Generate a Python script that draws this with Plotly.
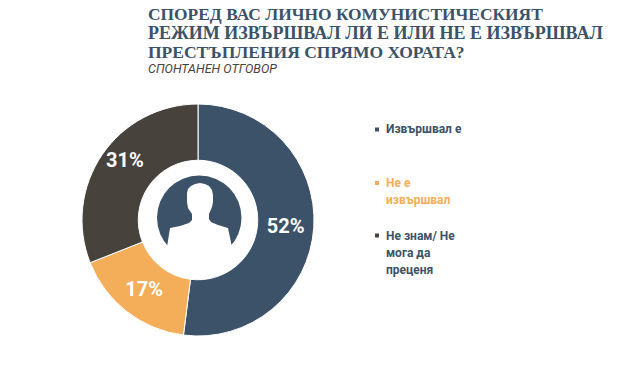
import plotly.graph_objects as go

W, H = 618, 377
categories = ["Извършвал е", "Не е извършвал", "Не знам/ Не мога да преценя"]
values = [52, 17, 31]
colors = ["#3B5268", "#F4AE5A", "#47423C"]
legend_lines = [["Извършвал е"], ["Не е", "извършвал"], ["Не знам/ Не", "мога да", "преценя"]]
legend_colors = ["#3B5268", "#F4AE5A", "#3B5268"]
legend_y = [129.5, 183, 235.5]
title_lines = ["СПОРЕД ВАС ЛИЧНО КОМУНИСТИЧЕСКИЯТ",
               "РЕЖИМ ИЗВЪРШВАЛ ЛИ Е ИЛИ НЕ Е ИЗВЪРШВАЛ",
               "ПРЕСТЪПЛЕНИЯ СПРЯМО ХОРАТА?"]
title_sizes = [17.4, 18, 17.5]
subtitle = "СПОНТАНЕН ОТГОВОР"

def X(p): return p / W
def Y(p): return 1 - p / H

label_font = dict(family="Roboto", size=20, color="white", weight="bold")
fig = go.Figure(go.Pie(
    labels=categories, values=values, hole=0.515, sort=False, direction="clockwise", rotation=0,
    marker=dict(colors=colors, line=dict(color="white", width=1)),
    text=[f"{values[0]}%", f"{values[1]}%", ""], textinfo="text", textposition="inside",
    insidetextorientation="horizontal", textfont=label_font,
    domain=dict(x=[X(82), X(314)], y=[Y(336), Y(104)]), showlegend=False, hoverinfo="label+percent",
))

ann = [dict(text=f"<b>{values[2]}%</b>", x=X(124.5), y=Y(160), xanchor="center", yanchor="middle",
            showarrow=False, font=label_font)]
for i, (t, s) in enumerate(zip(title_lines, title_sizes)):
    ann.append(dict(text=f"<b>{t}</b>", x=X(146), y=Y(14 + i * 19.2), xanchor="left", yanchor="middle",
                    showarrow=False, font=dict(family="Liberation Serif", size=s, color="#3B5268")))
ann.append(dict(text=f"<i>{subtitle}</i>", x=X(146), y=Y(68.5), xanchor="left", yanchor="middle",
                showarrow=False, font=dict(family="Roboto", size=12.5, color="#47423C")))
shapes = []
for lines, col, y0, mk in zip(legend_lines, legend_colors, legend_y, colors):
    shapes.append(dict(type="rect", xref="paper", yref="paper", x0=X(375), x1=X(379),
                       y0=Y(y0 + 2), y1=Y(y0 - 2), fillcolor=mk, line_width=0))
    for j, l in enumerate(lines):
        ann.append(dict(text=f"<b>{l}</b>", x=X(384), y=Y(y0 + j * 17), xanchor="left", yanchor="middle",
                        showarrow=False, font=dict(family="Roboto", size=12, color=col)))

# decorative person icon inside the donut hole
shapes.append(dict(type="circle", xref="paper", yref="paper", x0=X(157), x1=X(241.5),
                   y0=Y(260), y1=Y(175.5), fillcolor="#3B5268", line_width=0))
pts = [(191,186),(195,184),(200,183),(205,184),(209,186),(212,190),(213,195),(213,202),(212,207),(209,214),(209,219),
       (211,222),(218,225),(228,228),(232,247),
       (234,262),(199,266),(164,262),(167,247),(170,228),(180,226),(189,223),(192,220),(192,214),(188,208),(187,202),(187,193),(188,189)]
path = "M" + " L".join(f"{X(a):.5f},{Y(b):.5f}" for a, b in pts) + " Z"
shapes.append(dict(type="path", xref="paper", yref="paper", path=path, fillcolor="white", line_width=0))

fig.update_layout(width=W, height=H, margin=dict(l=0, r=0, t=0, b=0), paper_bgcolor="white",
                  plot_bgcolor="white", annotations=ann, shapes=shapes)
fig.write_html("out.html", config=dict(displayModeBar=False), post_script="document.body.style.margin='0';")
